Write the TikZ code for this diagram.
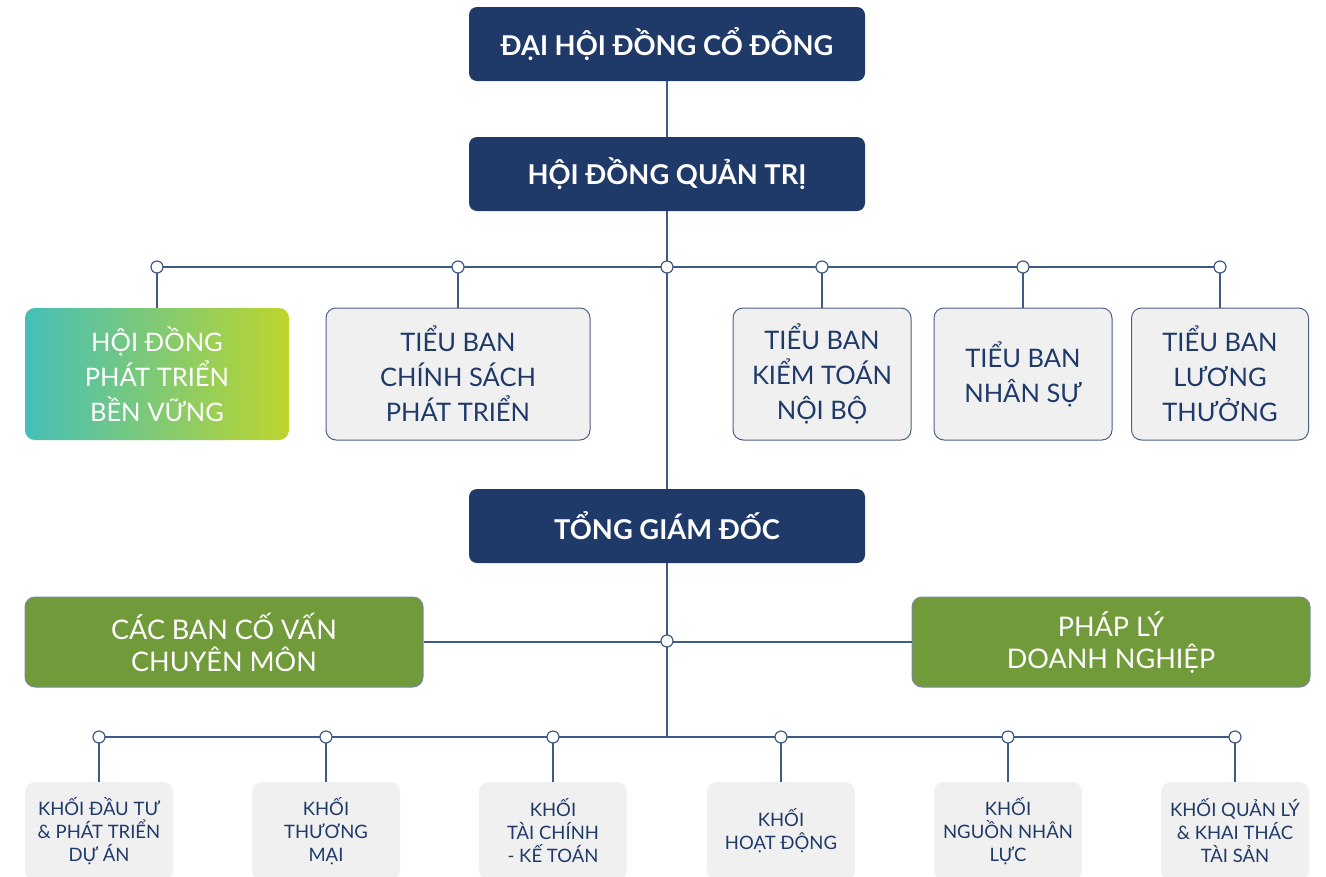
\documentclass[tikz,border=0pt]{standalone}
\usepackage{fontspec}
\setmainfont{Lato}
\usetikzlibrary{positioning}
\definecolor{navy}{HTML}{1F3A68}
\definecolor{linecol}{HTML}{3E5A85}
\definecolor{boxgray}{HTML}{F0F0F0}
\definecolor{olive}{HTML}{719A3B}
\definecolor{tealgreen}{HTML}{45BFB9}
\definecolor{limegreen}{HTML}{BDD52D}

\tikzset{
  topbox/.style={fill=navy, rounded corners=8pt, minimum width=396pt, minimum height=74pt,
    text=white, font=\fontsize{27.3}{30}\selectfont\bfseries},
  subbox/.style={fill=boxgray, draw=navy!80, line width=1pt, rounded corners=10pt,
    minimum height=132pt, align=center, text=navy, font=\fontsize{25.5}{35}\selectfont},
  advbox/.style={fill=olive, draw=navy!60, line width=1pt, rounded corners=10pt,
    minimum width=398pt, minimum height=90pt, align=center, text=white,
    font=\fontsize{27}{32}\selectfont},
  unitbox/.style={fill=boxgray, rounded corners=10pt, minimum width=148pt, minimum height=98pt,
    align=center, text=navy, font=\fontsize{18.5}{23}\selectfont},
  dot/.style={circle, draw=linecol, fill=white, line width=1.2pt, inner sep=0pt, minimum size=12pt},
  link/.style={draw=linecol, line width=1.5pt}
}

\begin{document}
\begin{tikzpicture}[x=1pt, y=-1pt]
  \useasboundingbox (0,0) rectangle (1326,876);
  \clip (0,0) rectangle (1326,876);

  % Top level
  \node[topbox] (dhdcd) at (667,44) {ĐẠI HỘI ĐỒNG CỔ ĐÔNG};
  \node[topbox] (hdqt) at (667,174) {HỘI ĐỒNG QUẢN TRỊ};
  \node[topbox] (tgd) at (667,526) {TỔNG GIÁM ĐỐC};

  % Committees
  \node[subbox, draw=none, left color=tealgreen, right color=limegreen, text=white,
    minimum width=264pt] (hdptbv) at (157,374) {HỘI ĐỒNG\\PHÁT TRIỂN\\BỀN VỮNG};
  \node[subbox, minimum width=264pt] (tbcspt) at (458,374) {TIỂU BAN\\CHÍNH SÁCH\\PHÁT TRIỂN};
  \node[subbox, minimum width=178pt] (tbktnb) at (822,374) {TIỂU BAN\\KIỂM TOÁN\\NỘI BỘ};
  \node[subbox, minimum width=178pt] (tbns) at (1023,374) {TIỂU BAN\\NHÂN SỰ};
  \node[subbox, minimum width=177pt] (tblt) at (1220,374) {TIỂU BAN\\LƯƠNG\\THƯỞNG};

  % Advisors
  \node[advbox] (bcv) at (224,642) {CÁC BAN CỐ VẤN\\CHUYÊN MÔN};
  \node[advbox] (pl) at (1111,642) {PHÁP LÝ\\DOANH NGHIỆP};

  % Units
  \node[unitbox] (k1) at (99,831) {KHỐI ĐẦU TƯ\\\& PHÁT TRIỂN\\DỰ ÁN};
  \node[unitbox] (k2) at (326,831) {KHỐI\\THƯƠNG\\MẠI};
  \node[unitbox] (k3) at (553,831) {KHỐI\\TÀI CHÍNH\\- KẾ TOÁN};
  \node[unitbox] (k4) at (781,831) {KHỐI\\HOẠT ĐỘNG};
  \node[unitbox] (k5) at (1008,831) {KHỐI\\NGUỒN NHÂN\\LỰC};
  \node[unitbox] (k6) at (1235,831) {KHỐI QUẢN LÝ\\\& KHAI THÁC\\TÀI SẢN};

  % Bus points
  \coordinate (b1) at (157,267);
  \coordinate (b2) at (458,267);
  \coordinate (b3) at (667,267);
  \coordinate (b4) at (822,267);
  \coordinate (b5) at (1023,267);
  \coordinate (b6) at (1220,267);
  \coordinate (mid) at (667,641);
  \coordinate (c0) at (667,737);
  \coordinate (c1) at (99,737);
  \coordinate (c2) at (326,737);
  \coordinate (c3) at (553,737);
  \coordinate (c4) at (781,737);
  \coordinate (c5) at (1008,737);
  \coordinate (c6) at (1235,737);

  % Connectors
  \draw[link] (dhdcd) -- (hdqt);
  \draw[link] (hdqt) -- (tgd);
  \draw[link] (b1) -- (b6);
  \foreach \b/\t in {b1/hdptbv, b2/tbcspt, b4/tbktnb, b5/tbns, b6/tblt}
    \draw[link] (\b) -- (\t.north);
  \draw[link] (tgd) -- (c0);
  \draw[link] (bcv) -- (pl);
  \draw[link] (c1) -- (c6);
  \foreach \i in {1,...,6}
    \draw[link] (c\i) -- (k\i.north);

  % Junction dots
  \foreach \p in {b1,b2,b3,b4,b5,b6,mid,c1,c2,c3,c4,c5,c6}
    \node[dot] at (\p) {};
\end{tikzpicture}
\end{document}
